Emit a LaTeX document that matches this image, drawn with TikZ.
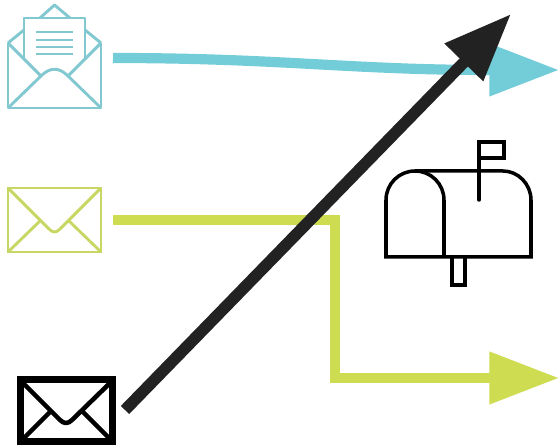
\documentclass[tikz,border=0pt]{standalone}
\usepackage{xcolor}
\usetikzlibrary{positioning,arrows.meta}

\begin{document}
\begin{tikzpicture}[
      x=0.02cm, y=-0.02cm,
      iconline/.style={line width=1.65pt, line join=round},
      iconbox/.style={rectangle, draw, line width=1.5pt, inner sep=0pt, outer sep=0pt},
      boxline/.style={line width=2pt, line join=miter},
      flow/.style={-{Triangle[length=39.6pt, width=28.5pt]}, line width=5.8pt},
    ]
    \definecolor{mailteal}{RGB}{114,205,216}
    \definecolor{iconteal}{RGB}{130,200,208}
    \definecolor{mailgreen}{RGB}{205,220,80}
    \definecolor{icongreen}{RGB}{200,215,100}
    \definecolor{maildark}{RGB}{34,34,34}

    \useasboundingbox (0,0) rectangle (559,448);

    % open envelope
    \draw[iconline, draw=iconteal] (8,43) -- (8,108) -- (101,108) -- (101,43);
    \draw[iconline, draw=iconteal] (8,43) -- (24,30) (40,18) -- (54.5,5) -- (70,18) (85,30) -- (101,43);
    \draw[iconline, draw=iconteal] (24,60) -- (24,18) -- (85,18) -- (85,60);
    \foreach \y in {32,40,47,54}
      \draw[iconline, draw=iconteal] (36,\y) -- (73,\y);
    \draw[iconline, draw=iconteal] (8,43) -- (41,76) (101,43) -- (68,76);
    \draw[iconline, draw=iconteal] (8,108) -- (41,76) .. controls (50,67) and (59,67) .. (68,76) -- (101,108);

    % closed envelope
    \node[iconbox, draw=icongreen, minimum width=93*0.02cm, minimum height=64*0.02cm] (readmail) at (54.5,220) {};
    \draw[iconline, draw=icongreen] (8,188) -- (49,229) .. controls (53,233) and (56,233) .. (60,229) -- (101,188);
    \draw[iconline, draw=icongreen] (8,252) -- (41,220) (101,252) -- (68,220);

    % black envelope
    \node[iconbox, draw=black, line width=4pt, minimum width=92*0.02cm, minimum height=62*0.02cm] (sentmail) at (66.5,410.5) {};
    \draw[line width=2.6pt, line join=round] (23,383) -- (60,420) .. controls (64,424) and (68,424) .. (72,420) -- (110,383);
    \draw[line width=2.6pt] (23,439) -- (52,410) (110,439) -- (81,410);

    % mailbox
    \draw[boxline] (386,257) -- (386,200) .. controls (386,184) and (399,171) .. (415,171) -- (503,171) .. controls (518,171) and (531,184) .. (531,200) -- (531,257) -- cycle;
    \draw[boxline] (444,257) -- (444,200) .. controls (444,184) and (431,171) .. (415,171);
    \draw[boxline, line cap=round] (479,200) -- (479,142) -- (504,142) -- (504,158) -- (479,158);
    \draw[boxline] (452,257) -- (452,285) -- (465,285) -- (465,257);

    \coordinate (tealstart) at (113,58);
    \coordinate (tealbend) at (489,70);
    \coordinate (tealend) at (559,70);
    \coordinate (greenstart) at (113,220);
    \coordinate (greenturn) at (335,220);
    \coordinate (greendown) at (335,378);
    \coordinate (greenend) at (559,378);
    \coordinate (darkstart) at (125,410);
    \coordinate (darkend) at (511,14);

    \draw[flow, draw=mailteal] (tealstart) .. controls (280,58) and (350,70) .. (tealbend) -- (tealend);
    \draw[flow, draw=mailgreen, line join=miter] (greenstart) -- (greenturn) -- (greendown) -- (greenend);
    \draw[-{Triangle[length=38.5pt, width=29pt]}, line width=6.6pt, draw=maildark] (darkstart) -- (darkend);
  \end{tikzpicture}
\end{document}
